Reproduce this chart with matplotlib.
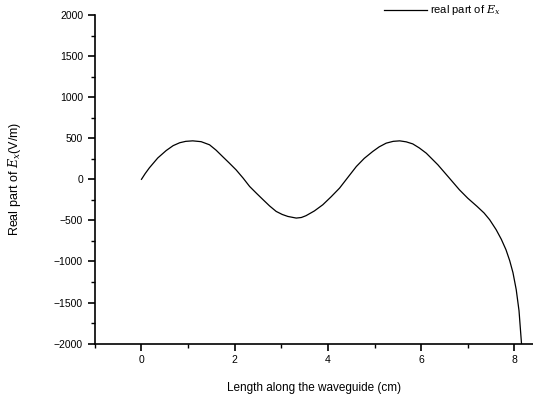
import matplotlib
matplotlib.use("Agg")
import matplotlib.pyplot as plt
from matplotlib.ticker import MultipleLocator
from matplotlib.lines import Line2D

plt.rcParams['font.family'] = ['Liberation Sans', 'DejaVu Sans']
plt.rcParams['mathtext.fontset'] = 'dejavuserif'

x_cm = [0.0, 0.08, 0.17, 0.35, 0.53, 0.68, 0.82, 0.95, 1.10, 1.28, 1.46, 1.60,
        1.74, 1.88, 2.03, 2.18, 2.32, 2.47, 2.61, 2.75, 2.89, 3.02, 3.14, 3.32,
        3.43, 3.53, 3.71, 3.89, 4.07, 4.25, 4.43, 4.61, 4.78, 4.96, 5.10, 5.25,
        5.40, 5.54, 5.68, 5.82, 5.96, 6.11, 6.23, 6.36, 6.59, 6.82, 7.00, 7.20,
        7.35, 7.47, 7.61, 7.72, 7.82, 7.90, 7.97, 8.04, 8.10, 8.16]
ex_real = [0, 70, 140, 260, 350, 410, 445, 462, 468, 458, 420, 355,
           277, 200, 115, 15, -87, -172, -249, -325, -391, -428, -452, -472,
           -465, -443, -385, -310, -212, -107, 25, 156, 255, 338, 395, 440,
           462, 468, 456, 431, 382, 318, 250, 176, 25, -127, -230, -330,
           -410, -492, -614, -730, -857, -990, -1136, -1343, -1600, -2050]

fig = plt.figure(figsize=(5.33, 4.0), dpi=100)
ax = fig.add_axes([0.178, 0.141, 0.822, 0.8215])
ax.plot(x_cm, ex_real, color='black', lw=0.9)
ax.set_xlim(-1, 8.4)
ax.set_ylim(-2000, 2000)
ax.xaxis.set_major_locator(MultipleLocator(2))
ax.xaxis.set_minor_locator(MultipleLocator(1))
ax.yaxis.set_major_locator(MultipleLocator(500))
ax.yaxis.set_minor_locator(MultipleLocator(250))
for s in ['top', 'right']:
    ax.spines[s].set_visible(False)
for s in ['left', 'bottom']:
    ax.spines[s].set_linewidth(1.2)
ax.tick_params(which='major', direction='out', length=5, width=1.2, labelsize=7.5)
ax.tick_params(which='minor', direction='out', length=3, width=1.0)
ax.set_xlabel('Length along the waveguide (cm)', fontsize=8.5, labelpad=12)
ax.set_ylabel('Real part of $E_x$(V/m)', fontsize=9, labelpad=22)

fig.add_artist(Line2D([384/533, 427/533], [1 - 10/400, 1 - 10/400],
                      transform=fig.transFigure, color='black', lw=0.9))
fig.text(430/533, 1 - 10/400, 'real part of $E_x$', fontsize=8, va='center', ha='left')

fig.savefig('out.png', dpi=100)
